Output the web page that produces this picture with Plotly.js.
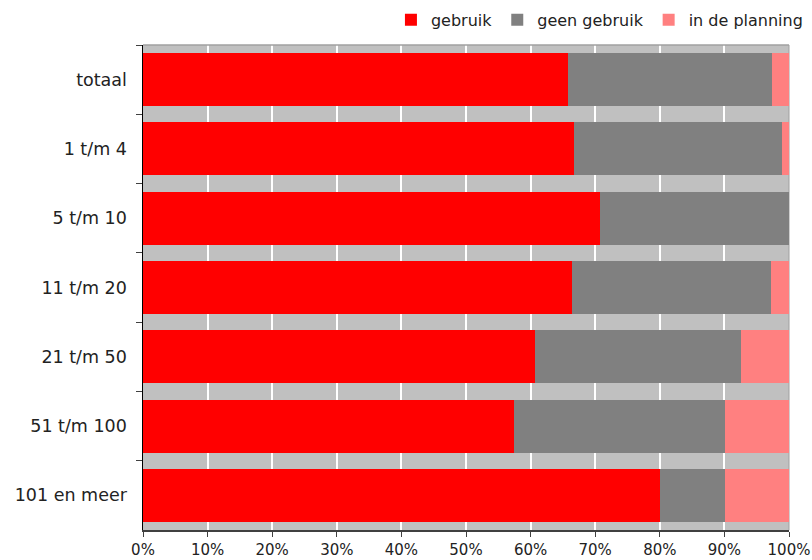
<!DOCTYPE html>
<html>
<head>
<meta charset="utf-8">
<script src="https://cdn.plot.ly/plotly-3.0.1.min.js"></script>
<style>html,body{margin:0;padding:0;background:#fff;}#chart{width:812px;height:560px;}</style>
</head>
<body>
<div id="chart"></div>
<script>
const categories = ["totaal", "1 t/m 4", "5 t/m 10", "11 t/m 20", "21 t/m 50", "51 t/m 100", "101 en meer"];
const gebruik = [0.658, 0.667, 0.707, 0.664, 0.607, 0.574, 0.800];
const geenGebruik = [0.316, 0.322, 0.293, 0.308, 0.319, 0.327, 0.101];
const inDePlanning = [0.026, 0.011, 0.000, 0.028, 0.074, 0.099, 0.099];
const xTicks = [0, 0.1, 0.2, 0.3, 0.4, 0.5, 0.6, 0.7, 0.8, 0.9, 1.0];
const xTickLabels = ["0%", "10%", "20%", "30%", "40%", "50%", "60%", "70%", "80%", "90%", "100%"];

const mk = (name, vals, color) => ({
  type: 'bar', orientation: 'h', name: name, x: vals, y: categories,
  marker: {color: color, line: {width: 0}}, hoverinfo: 'x+y+name'
});

const data = [
  mk('gebruik', gebruik, '#FF0000'),
  mk('geen gebruik', geenGebruik, '#808080'),
  mk('in de planning', inDePlanning, '#FF8080')
];

const layout = {
  width: 812, height: 560,
  margin: {l: 143, r: 23, t: 45, b: 30, autoexpand: false},
  paper_bgcolor: '#FFFFFF',
  plot_bgcolor: '#C0C0C0',
  barmode: 'stack',
  bargap: 0.235,
  font: {family: 'DejaVu Sans, Verdana, sans-serif', size: 15, color: '#222'},
  showlegend: true,
  legend: {orientation: 'h', xref: 'container', yref: 'container',
           x: 0.995, xanchor: 'right', y: 0.995, yanchor: 'top',
           font: {size: 16, color: '#222'}, traceorder: 'normal', itemwidth: 30,
           bgcolor: 'rgba(0,0,0,0)'},
  xaxis: {range: [0, 1], tickvals: xTicks, ticktext: xTickLabels,
          showgrid: true, gridcolor: '#FFFFFF', gridwidth: 2,
          showline: true, linecolor: '#404040', linewidth: 1.5,
          ticks: 'outside', ticklen: 5, tickcolor: '#404040',
          zeroline: false, fixedrange: true, automargin: false, tickfont: {size: 15}},
  yaxis: {type: 'category', autorange: 'reversed', tickson: 'boundaries',
          showgrid: false, showline: true, linecolor: '#000000', linewidth: 1.5,
          ticks: 'outside', ticklen: 6, tickcolor: '#404040',
          ticksuffix: '  ', zeroline: false, fixedrange: true, automargin: false,
          tickfont: {size: 17.5}},
  shapes: [
    {type: 'line', xref: 'paper', yref: 'paper', x0: 0, x1: 1, y0: 1, y1: 1,
     line: {color: '#A0A0A0', width: 1.5}, layer: 'above'},
    {type: 'line', xref: 'paper', yref: 'paper', x0: 1, x1: 1, y0: 0, y1: 1,
     line: {color: '#A0A0A0', width: 1}, layer: 'below'}
  ]
};

Plotly.newPlot('chart', data, layout, {displayModeBar: false, staticPlot: true});
</script>
</body>
</html>
